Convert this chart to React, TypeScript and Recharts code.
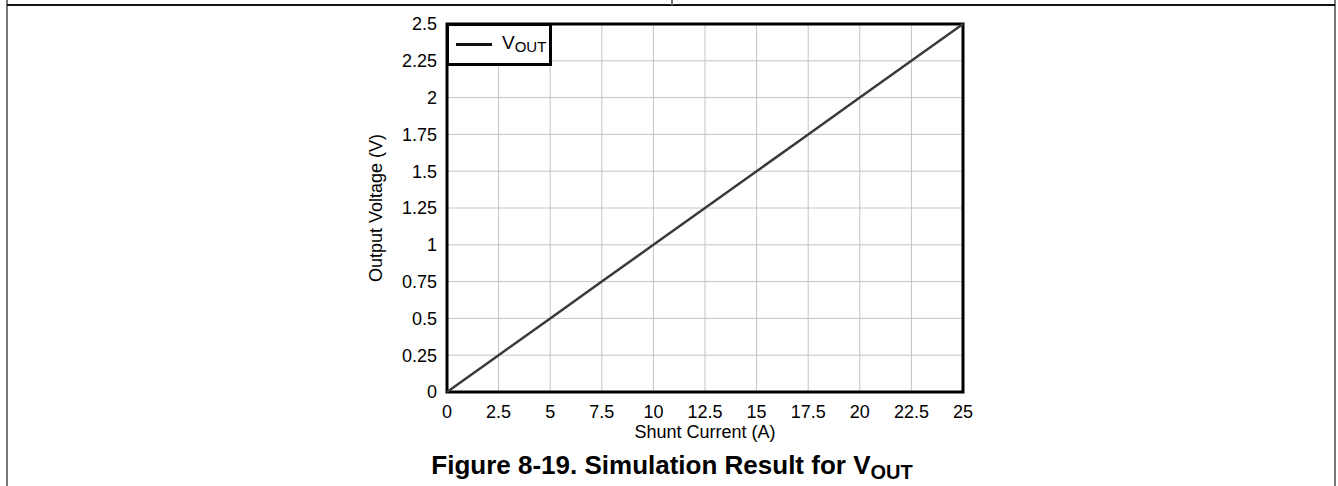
import React from 'react';
import {
  LineChart,
  Line,
  XAxis,
  YAxis,
  CartesianGrid,
  ReferenceArea,
  Legend,
} from 'recharts';

// values (straight line through the grid crossings)
const shuntCurrent = [0, 2.5, 5, 7.5, 10, 12.5, 15, 17.5, 20, 22.5, 25];
const outputVoltage = [0, 0.25, 0.5, 0.75, 1, 1.25, 1.5, 1.75, 2, 2.25, 2.5];

const xTicks = [0, 2.5, 5, 7.5, 10, 12.5, 15, 17.5, 20, 22.5, 25];
const yTicks = [0, 0.25, 0.5, 0.75, 1, 1.25, 1.5, 1.75, 2, 2.25, 2.5];

const data = shuntCurrent.map((c, i) => ({ current: c, vout: outputVoltage[i] }));

const FONT = '"Liberation Sans", Arial, sans-serif';
const tickStyle = { fill: '#000', fontSize: 18, fontFamily: FONT };
const titleStyle = { fill: '#000', fontSize: 18, fontFamily: FONT };

function VoutLegend() {
  return (
    <div
      style={{
        width: 106,
        height: 43,
        boxSizing: 'border-box',
        border: '3px solid #000',
        background: '#fff',
        display: 'flex',
        alignItems: 'center',
        fontFamily: FONT,
        color: '#000',
      }}
    >
      <div style={{ width: 36, height: 3, background: '#111', marginLeft: 7 }} />
      <span style={{ marginLeft: 10, fontSize: 19, lineHeight: '19px' }}>
        V<span style={{ fontSize: 15, verticalAlign: -3 }}>OUT</span>
      </span>
    </div>
  );
}

export default function App() {
  return (
    <div style={{ position: 'absolute', left: 0, top: 0, width: 1338, height: 486, background: '#fff' }}>
      {/* page frame */}
      <div style={{ position: 'absolute', left: 6, top: 0, width: 2, height: 486, background: '#777' }} />
      <div style={{ position: 'absolute', left: 1334, top: 0, width: 2, height: 486, background: '#777' }} />
      <div style={{ position: 'absolute', left: 7, top: 4, width: 1328, height: 2, background: '#111' }} />
      <div style={{ position: 'absolute', left: 671, top: 0, width: 2, height: 5, background: '#777' }} />

      <div style={{ position: 'absolute', left: 0, top: 0 }}>
        <LineChart
          width={1338}
          height={486}
          data={data}
          margin={{ top: 24, right: 375, bottom: 64, left: 327 }}
        >
          <CartesianGrid stroke="#c4c4c4" strokeWidth={1} horizontalValues={yTicks} verticalValues={xTicks} />
          <XAxis
            dataKey="current"
            type="number"
            domain={[0, 25]}
            ticks={xTicks}
            interval={0}
            height={30}
            axisLine={false}
            tickLine={false}
            tickMargin={7}
            tick={tickStyle}
            label={{
              value: 'Shunt Current (A)',
              position: 'bottom',
              offset: 3,
              style: titleStyle,
            }}
          />
          <YAxis
            type="number"
            domain={[0, 2.5]}
            ticks={yTicks}
            interval={0}
            width={120}
            axisLine={false}
            tickLine={false}
            tickMargin={4}
            tick={tickStyle}
            label={{
              value: 'Output Voltage (V)',
              angle: -90,
              position: 'insideLeft',
              offset: 49,
              style: { ...titleStyle, textAnchor: 'middle' },
            }}
          />
          <Line
            type="linear"
            dataKey="vout"
            name="VOUT"
            stroke="#3a3a3a"
            strokeWidth={2.5}
            dot={false}
            activeDot={false}
            isAnimationActive={false}
          />
          <ReferenceArea
            x1={0}
            x2={25}
            y1={0}
            y2={2.5}
            fill="none"
            stroke="#000"
            strokeWidth={3}
            ifOverflow="visible"
          />
          <Legend
            layout="vertical"
            align="center"
            verticalAlign="middle"
            content={() => <VoutLegend />}
            wrapperStyle={{ top: 23, left: 446, width: 'auto', height: 'auto' }}
          />
        </LineChart>
      </div>

      <div
        style={{
          position: 'absolute',
          left: 0,
          top: 452,
          width: 1344,
          textAlign: 'center',
          fontFamily: FONT,
          fontWeight: 'bold',
          fontSize: 26,
          lineHeight: '26px',
          color: '#000',
        }}
      >
        Figure 8-19. Simulation Result for V
        <span style={{ fontSize: 20, verticalAlign: -5 }}>OUT</span>
      </div>
    </div>
  );
}
